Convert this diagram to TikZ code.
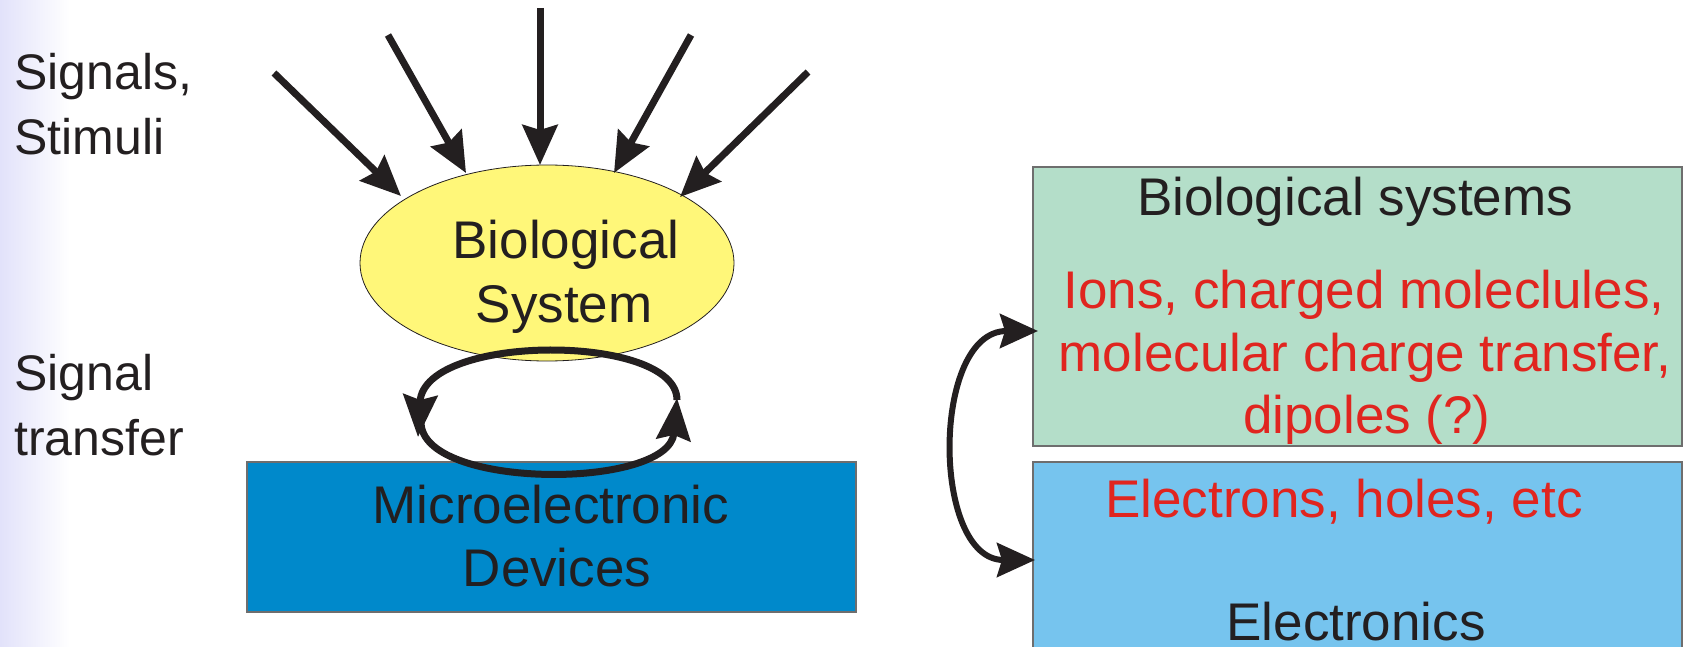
\documentclass[tikz,border=0pt]{standalone}
\usepackage{fontspec}
\setmainfont{Liberation Sans}
\usetikzlibrary{arrows.meta,shapes.geometric,calc}
\definecolor{ellyellow}{HTML}{FFF779}
\definecolor{microblue}{HTML}{0089CB}
\definecolor{biogreen}{HTML}{B4DEC9}
\definecolor{elecblue}{HTML}{76C4EE}
\definecolor{redc}{HTML}{E0251F}
\definecolor{blk}{HTML}{231F20}
\definecolor{lav}{HTML}{E2E2FA}
\definecolor{edgegray}{HTML}{6E6E6E}
\begin{document}
\begin{tikzpicture}[x=1pt,y=-1pt,
  txt/.style={font=\fontsize{53}{62}\selectfont, inner sep=0pt, text=blk},
  sidetxt/.style={font=\fontsize{50}{60}\selectfont, inner sep=0pt, text=blk, anchor=base west},
  redtxt/.style={txt, text=redc},
  boxstyle/.style={rectangle, draw=edgegray, line width=1.2pt, inner sep=0pt},
  sigarrow/.style={line width=7pt, draw=blk, -{Stealth[length=40pt,width=35pt,inset=5pt]}},
  looparrow/.style={line width=7pt, draw=blk, -{Stealth[length=42pt,width=34pt,inset=5pt]}},
  dblarrow/.style={line width=6pt, draw=blk, {Stealth[length=38pt,width=34pt,inset=5pt]}-{Stealth[length=38pt,width=34pt,inset=5pt]}}]
\useasboundingbox (0,0) rectangle (1685,647);
\shade[left color=lav, right color=white] (0,0) rectangle (70,647);

% left labels
\node[sidetxt] (sig1) at (14,90) {Signals,};
\node[sidetxt] (sig2) at (14,155) {Stimuli};
\node[sidetxt] (tr1) at (14,390) {Signal};
\node[sidetxt] (tr2) at (14,455) {transfer};

% biological system ellipse
\node[ellipse, draw=blk, line width=0.8pt, fill=ellyellow, minimum width=374pt, minimum height=196pt, inner sep=0pt] (bio) at (547,263) {};
\node[txt, anchor=base] (bio1) at (566,258) {Biological};
\node[txt, anchor=base] (bio2) at (564,322) {System};

% microelectronic devices
\node[boxstyle, fill=microblue, minimum width=609pt, minimum height=150pt] (micro) at (551.5,537) {};
\node[txt, anchor=base] (mic1) at (551,523) {Microelectronic};
\node[txt, anchor=base] (mic2) at (557,586) {Devices};

% signal transfer loop
\coordinate (lr) at (677,400);
\coordinate (ll) at (418,437);
\coordinate (lls) at (421,422);
\coordinate (lrt) at (677,398);
\draw[looparrow] (lr) .. controls (677,333) and (424,333) .. (ll);
\draw[looparrow] (lls) .. controls (421,490) and (669,490) .. (lrt);

% incoming signal arrows
\coordinate (s1) at (274,73);  \coordinate (t1) at (401,196);
\coordinate (s2) at (388,35);  \coordinate (t2) at (466,173);
\coordinate (s3) at (540,8);   \coordinate (t3) at (540,165);
\coordinate (s4) at (691,35);  \coordinate (t4) at (614,173);
\coordinate (s5) at (808,72);  \coordinate (t5) at (680,197);
\draw[sigarrow] (s1) -- (t1);
\draw[sigarrow] (s2) -- (t2);
\draw[sigarrow] (s3) -- (t3);
\draw[sigarrow] (s4) -- (t4);
\draw[sigarrow] (s5) -- (t5);

% right boxes
\node[boxstyle, fill=biogreen, minimum width=649pt, minimum height=279pt] (biosys) at (1357.5,306.5) {};
\node[txt, anchor=base] (bs0) at (1355,215) {Biological systems};
\node[redtxt, anchor=base] (bs1) at (1364,308) {Ions, charged moleclules,};
\node[redtxt, anchor=base] (bs2) at (1365,371) {molecular charge transfer,};
\node[redtxt, anchor=base] (bs3) at (1367,433) {dipoles (?)};

\node[boxstyle, fill=elecblue, minimum width=649pt, minimum height=198pt] (elec) at (1357.5,561) {};
\node[redtxt, anchor=base] (el1) at (1344,517) {Electrons, holes, etc};
\node[txt, anchor=base] (el2) at (1356,640) {Electronics};

% curved double arrow
\coordinate (ca) at (1038,331);
\coordinate (cb) at (1035,560);
\draw[dblarrow] (ca) .. controls (931,331) and (931,560) .. (cb);
\end{tikzpicture}
\end{document}
